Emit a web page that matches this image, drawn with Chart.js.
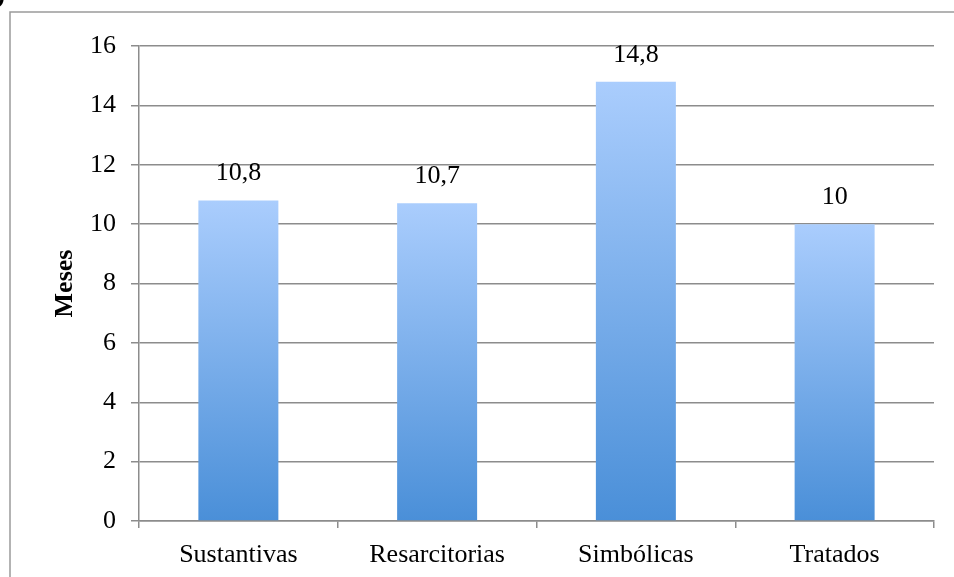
<!DOCTYPE html>
<html>
<head>
<meta charset="utf-8">
<script src="https://cdn.jsdelivr.net/npm/chart.js@4/dist/chart.umd.min.js"></script>
<style>
  html, body { margin: 0; padding: 0; background: #fff; }
  #wrap { width: 954px; height: 577px; }
</style>
</head>
<body>
<div id="wrap"><canvas id="c" width="954" height="577"></canvas></div>
<script>
// Duración media (meses) por tipo de medida
const categories = ['Sustantivas', 'Resarcitorias', 'Simbólicas', 'Tratados'];
const meses = [10.8, 10.7, 14.8, 10];
const yTicks = [0, 2, 4, 6, 8, 10, 12, 14, 16];
const axisTitle = 'Meses';
const panelTag = 'b)';

const SERIF = '"Liberation Serif", "Times New Roman", Times, serif';
const GRID = '#8c8c8c';

// Vertical gradient per bar: light blue at the top, deeper blue at the base
function barGradient(c) {
  const chart = c.chart;
  const { ctx, chartArea, scales } = chart;
  if (!chartArea || !scales.y) return '#7fb0ee';
  const yTop = scales.y.getPixelForValue(c.raw);
  const yBot = scales.y.getPixelForValue(0);
  const g = ctx.createLinearGradient(0, yTop, 0, yBot);
  g.addColorStop(0, '#aacdfd');
  g.addColorStop(1, '#4a8fd8');
  return g;
}

// Outer frame, panel tag, axis title and value labels
const decorations = {
  id: 'decorations',
  beforeDraw(chart) {
    const ctx = chart.ctx;
    ctx.save();
    ctx.fillStyle = '#fff';
    ctx.fillRect(0, 0, chart.width, chart.height);
    ctx.strokeStyle = '#9a9a9a';
    ctx.lineWidth = 1.5;
    ctx.strokeRect(10, 12, chart.width + 20, chart.height + 20);
    ctx.fillStyle = '#000';
    ctx.font = 'bold 26px ' + SERIF;
    ctx.textAlign = 'right';
    ctx.textBaseline = 'alphabetic';
    ctx.fillText(panelTag, 5, 3);
    ctx.restore();
  },
  afterDatasetsDraw(chart) {
    const ctx = chart.ctx;
    const area = chart.chartArea;
    ctx.save();
    ctx.fillStyle = '#000';
    // axis title
    ctx.font = 'bold 26px ' + SERIF;
    ctx.textAlign = 'center';
    ctx.textBaseline = 'middle';
    ctx.translate(65, (area.top + area.bottom) / 2);
    ctx.rotate(-Math.PI / 2);
    ctx.fillText(axisTitle, 0, 0);
    ctx.setTransform(1, 0, 0, 1, 0, 0);
    // value labels above bars
    ctx.font = '26px ' + SERIF;
    ctx.textBaseline = 'alphabetic';
    const meta = chart.getDatasetMeta(0);
    meta.data.forEach((bar, i) => {
      const label = String(meses[i]).replace('.', ',');
      ctx.fillText(label, bar.x, bar.y - 20);
    });
    ctx.restore();
  }
};

new Chart(document.getElementById('c'), {
  type: 'bar',
  data: {
    labels: categories,
    datasets: [{
      data: meses,
      backgroundColor: barGradient,
      borderWidth: 0,
      barPercentage: 0.4025,
      categoryPercentage: 1.0
    }]
  },
  options: {
    responsive: false,
    animation: false,
    devicePixelRatio: 1,
    layout: { padding: { top: 46, right: 20, left: 0, bottom: 0 } },
    plugins: {
      legend: { display: false },
      tooltip: { enabled: false },
      title: { display: false }
    },
    scales: {
      y: {
        min: 0,
        max: 16,
        afterFit(scale) { scale.width = 139; },
        afterBuildTicks(scale) { scale.ticks = yTicks.map(v => ({ value: v })); },
        ticks: {
          color: '#000',
          font: { family: SERIF, size: 26 },
          padding: 15
        },
        grid: {
          color: GRID,
          lineWidth: 1.5,
          tickLength: 8,
          drawTicks: true
        },
        border: { color: GRID, width: 1.5 }
      },
      x: {
        afterFit(scale) { scale.height = 56; },
        ticks: {
          color: '#000',
          font: { family: SERIF, size: 26 },
          padding: 12,
          maxRotation: 0
        },
        grid: {
          offset: true,
          drawOnChartArea: false,
          color: GRID,
          lineWidth: 1.5,
          tickLength: 7
        },
        border: { color: GRID, width: 1.5 }
      }
    }
  },
  plugins: [decorations]
});
</script>
</body>
</html>
